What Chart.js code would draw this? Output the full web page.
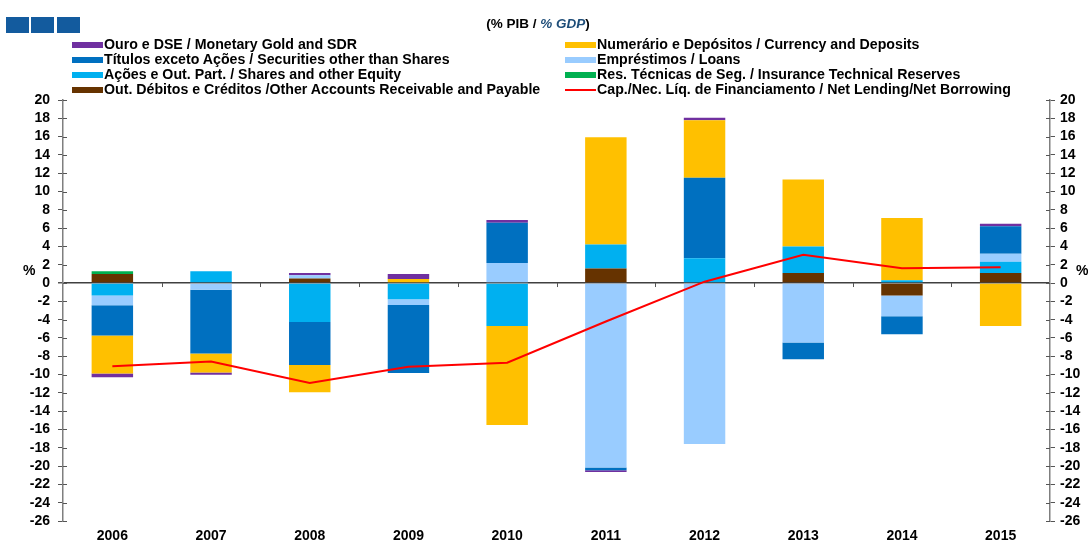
<!DOCTYPE html>
<html>
<head>
<meta charset="utf-8">
<script src="https://cdn.jsdelivr.net/npm/chart.js@4"></script>
<style>
  html, body { margin: 0; padding: 0; background: #fff; }
  #wrap { position: relative; width: 1088px; height: 540px; overflow: hidden; font-family: "Liberation Sans", Arial, sans-serif; }
  #wrap canvas { position: absolute; left: 0; top: 0; }
  .logo { position: absolute; top: 17px; width: 23px; height: 16px; background: #135B9E; }
  #subtitle { position: absolute; top: 16px; left: 0; width: 1076px; text-align: center; font-weight: bold; font-size: 13.5px; color: #000; }
  #subtitle i { color: #1F4E79; }
  .leg { position: absolute; height: 15px; font-weight: bold; font-size: 14.2px; color: #000; white-space: nowrap; line-height: 15px; }
  .leg .sw { position: absolute; left: 0; top: 5px; width: 31px; height: 6px; }
  .leg .ln { position: absolute; left: 0; top: 7px; width: 31px; height: 2px; }
  .leg span.t { position: absolute; left: 32px; top: 0; }
  .pct { position: absolute; font-weight: bold; font-size: 14px; color: #000; }
</style>
</head>
<body>
<div id="wrap">
  <canvas id="c" width="1088" height="540"></canvas>
  <div class="logo" style="left:6px"></div>
  <div class="logo" style="left:31px"></div>
  <div class="logo" style="left:57px"></div>
  <div id="subtitle">(% PIB / <i>% GDP</i>)</div>
  <div id="legend"></div>
  <div class="pct" style="left:23px; top:262px">%</div>
  <div class="pct" style="left:1076px; top:262px">%</div>
</div>
<script>
// ---- data ----
const categories = ['2006','2007','2008','2009','2010','2011','2012','2013','2014','2015'];
const monetaryGold   = [-0.42, -0.26, 0.25, 0.55, 0.29, -0.2, 0.25, 0, 0, 0.29];
const currencyDeposits = [-4.15, -2.07, -2.97, 0.43, -10.8, 11.7, 6.3, 7.3, 6.8, -4.69];
const securities     = [-3.3, -6.96, -4.7, -7.43, 4.4, -0.3, 8.8, -1.82, -1.96, 3.0];
const loans          = [-1.07, -0.74, 0.35, -0.61, 2.2, -20.15, -17.6, -6.5, -2.29, 0.87];
const sharesEquity   = [-1.36, 1.3, -4.26, -1.78, -4.7, 2.62, 2.7, 2.9, 0.3, 1.24];
const insurance      = [0.3, 0, 0, 0, 0, 0, 0, 0, 0, 0];
const otherAccounts  = [1.0, 0, 0.5, 0, 0, 1.6, 0, 1.1, -1.35, 1.09];
const netLending     = [-9.1, -8.57, -10.93, -9.15, -8.7, -4.2, 0.15, 3.1, 1.63, 1.72];

const labels = {
  gold: 'Ouro e DSE / Monetary Gold and SDR',
  currency: 'Numerário e Depósitos / Currency and Deposits',
  securities: 'Títulos exceto Ações / Securities other than Shares',
  loans: 'Empréstimos / Loans',
  shares: 'Ações e Out. Part. / Shares and other Equity',
  insurance: 'Res. Técnicas de Seg. / Insurance Technical Reserves',
  other: 'Out. Débitos e Créditos /Other Accounts Receivable and Payable',
  net: 'Cap./Nec. Líq. de Financiamento / Net Lending/Net Borrowing'
};
const colors = {
  gold: '#7030A0', currency: '#FFC000', securities: '#0070C0', loans: '#99CCFF',
  shares: '#00B0F0', insurance: '#00B050', other: '#663300', net: '#FF0000'
};

// ---- legend (two columns, row-wise) ----
const legendOrder = ['gold','currency','securities','loans','shares','insurance','other','net'];
const legEl = document.getElementById('legend');
legendOrder.forEach((k, i) => {
  const col = i % 2, row = Math.floor(i / 2);
  const d = document.createElement('div');
  d.className = 'leg';
  d.style.left = (col === 0 ? 72 : 565) + 'px';
  d.style.top = (37 + row * 15) + 'px';
  const sw = document.createElement('div');
  sw.className = k === 'net' ? 'ln' : 'sw';
  sw.style.background = colors[k];
  const t = document.createElement('span');
  t.className = 't';
  t.textContent = labels[k];
  d.appendChild(sw); d.appendChild(t);
  legEl.appendChild(d);
});

function bar(key, data) {
  return { type: 'bar', label: labels[key], data: data, backgroundColor: colors[key],
           borderWidth: 0, stack: 'bars', order: 1, yAxisID: 'y',
           barPercentage: 0.42, categoryPercentage: 1.0 };
}

const decor = {
  id: 'decor',
  afterDraw(chart) {
    const ctx = chart.ctx, y = chart.scales.y, x = chart.scales.x;
    const left = chart.chartArea.left, right = chart.chartArea.right;
    ctx.save();
    ctx.strokeStyle = '#555';
    ctx.lineWidth = 1;
    y.ticks.forEach(t => {
      const py = Math.round(y.getPixelForValue(t.value)) + 0.5;
      ctx.beginPath(); ctx.moveTo(left, py); ctx.lineTo(left + 4, py); ctx.stroke();
      ctx.beginPath(); ctx.moveTo(right - 4, py); ctx.lineTo(right, py); ctx.stroke();
    });
    const y0 = y.getPixelForValue(0);
    for (let i = 1; i < categories.length; i++) {
      const px = Math.round((x.getPixelForTick(i - 1) + x.getPixelForTick(i)) / 2) + 0.5;
      ctx.beginPath(); ctx.moveTo(px, y0); ctx.lineTo(px, y0 + 4); ctx.stroke();
    }
    ctx.restore();
  }
};

const tickFont = { family: '"Liberation Sans", Arial, sans-serif', size: 14, weight: 'bold' };

new Chart(document.getElementById('c'), {
  data: {
    labels: categories,
    datasets: [
      { type: 'line', label: labels.net, data: netLending, borderColor: colors.net,
        borderWidth: 2, pointRadius: 0, tension: 0, fill: false, stack: 'line', order: 0, yAxisID: 'y' },
      bar('other', otherAccounts),
      bar('insurance', insurance),
      bar('shares', sharesEquity),
      bar('loans', loans),
      bar('securities', securities),
      bar('currency', currencyDeposits),
      bar('gold', monetaryGold)
    ]
  },
  options: {
    responsive: false,
    animation: false,
    layout: { padding: { top: 100, bottom: 0, left: 0, right: 0 } },
    plugins: { legend: { display: false }, tooltip: { enabled: false } },
    scales: {
      x: {
        stacked: true,
        grid: { display: false, drawTicks: false },
        border: { display: false },
        ticks: { font: tickFont, color: '#000', padding: 7, maxRotation: 0 },
        afterFit(s) { s.height = 19; }
      },
      y: {
        stacked: true, position: 'left', min: -26, max: 20,
        ticks: { stepSize: 2, autoSkip: false, font: tickFont, color: '#000', padding: 8 },
        grid: {
          drawOnChartArea: true, tickLength: 5, tickColor: '#555',
          color: c => (c.tick && c.tick.value === 0) ? '#404040' : 'rgba(0,0,0,0)',
          lineWidth: c => (c.tick && c.tick.value === 0) ? 1.5 : 1
        },
        border: { display: true, color: '#7f7f7f', width: 1.5 },
        afterFit(s) { s.width = 63; }
      },
      y2: {
        position: 'right', min: -26, max: 20,
        ticks: { stepSize: 2, autoSkip: false, font: tickFont, color: '#000', padding: 5 },
        grid: { drawOnChartArea: false, tickLength: 5, tickColor: '#555' },
        border: { display: true, color: '#7f7f7f', width: 1.5 },
        afterFit(s) { s.width = 38; }
      }
    }
  },
  plugins: [decor]
});
</script>
</body>
</html>
